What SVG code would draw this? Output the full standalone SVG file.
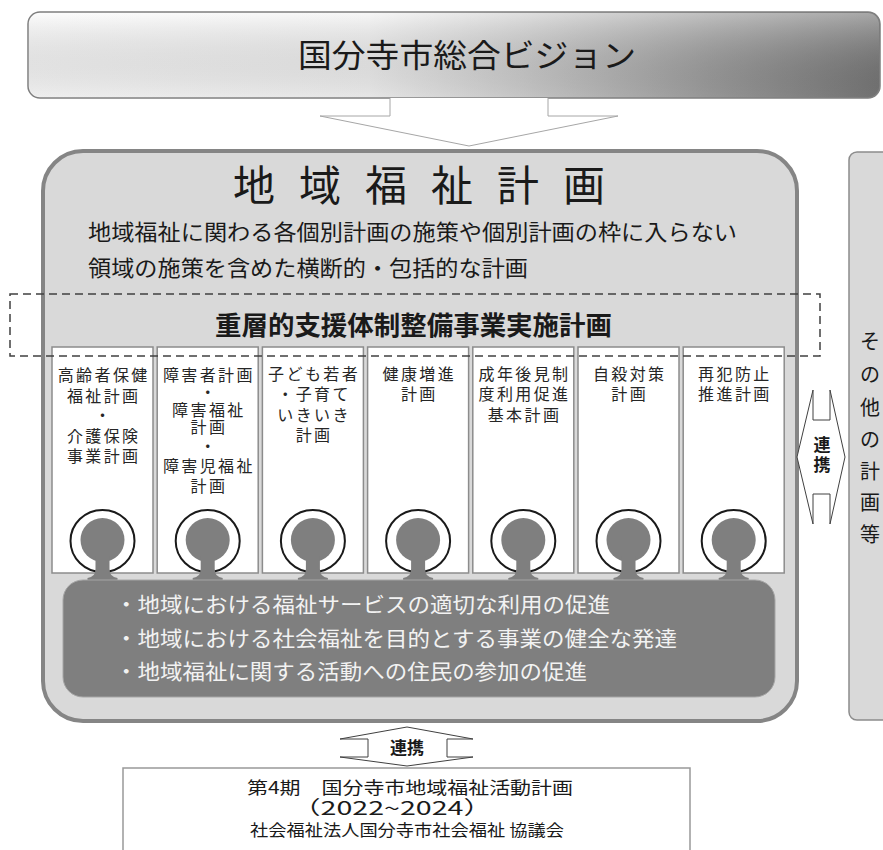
<svg xmlns="http://www.w3.org/2000/svg" width="883" height="850" viewBox="0 0 883 850">
<defs>
<linearGradient id="bannerGrad" x1="0" y1="0" x2="1" y2="0">
<stop offset="0" stop-color="#fbfbfb"/>
<stop offset="0.4" stop-color="#f2f2f2"/>
<stop offset="0.58" stop-color="#cfcfcf"/>
<stop offset="0.8" stop-color="#9e9e9e"/>
<stop offset="1" stop-color="#777777"/>
</linearGradient>
<linearGradient id="bannerV" x1="0" y1="0" x2="0" y2="1">
<stop offset="0" stop-color="#ffffff" stop-opacity="0.35"/>
<stop offset="1" stop-color="#000000" stop-opacity="0.05"/>
</linearGradient>
</defs>
<style>
text{font-family:"Noto Sans CJK JP","Noto Sans",sans-serif;fill:#1a1a1a}
.col{fill:#ffffff;stroke:#8c8c8c;stroke-width:1.5}
.ct{font-size:16px;text-anchor:middle;letter-spacing:2.4px;fill:#262626}
.ring{fill:#ffffff;stroke:#1a1a1a;stroke-width:2}
.disc{fill:#7f7f7f}
.bul{font-size:21px;fill:#f2f2f2}
.arr{fill:#ffffff;stroke:#404040;stroke-width:1}
.lk{font-size:17px;font-weight:bold;text-anchor:middle}
.side{font-size:20px;text-anchor:middle}
</style>
<rect width="883" height="850" fill="#ffffff"/>

<g id="vision">
<rect x="28" y="12" width="852" height="86" rx="12" fill="url(#bannerGrad)" stroke="#7f7f7f" stroke-width="1.5"/>
<rect x="29" y="13" width="850" height="84" rx="11" fill="url(#bannerV)"/>
<text x="298" y="67" font-size="32" textLength="338" lengthAdjust="spacingAndGlyphs">国分寺市総合ビジョン</text>
</g>

<g id="connectors">
<path d="M390,98 V116 H320 L469,146 L618,116 H548 V98" fill="#ffffff" stroke="#a6a6a6" stroke-width="1"/>
</g>

<g id="chiiki-fukushi-keikaku">
<rect x="43" y="151" width="754" height="570" rx="40" fill="#d9d9d9" stroke="#858585" stroke-width="4"/>
<text font-size="42" y="201"><tspan x="233">地</tspan><tspan x="299">域</tspan><tspan x="365">福</tspan><tspan x="431">祉</tspan><tspan x="497">計</tspan><tspan x="563">画</tspan></text>
<text x="88" y="240" font-size="22" textLength="649" lengthAdjust="spacingAndGlyphs">地域福祉に関わる各個別計画の施策や個別計画の枠に入らない</text>
<text x="88" y="276" font-size="22" textLength="440" lengthAdjust="spacingAndGlyphs">領域の施策を含めた横断的・包括的な計画</text>
<text x="215" y="335" font-size="26" font-weight="bold" textLength="397" lengthAdjust="spacingAndGlyphs">重層的支援体制整備事業実施計画</text>
</g>

<g id="plan-1">
<rect class="col" x="52" y="347" width="101" height="226"/>
<text class="ct"><tspan x="103.7" y="381">高齢者保健</tspan><tspan x="103.7" y="402">福祉計画</tspan><tspan x="103.7" y="421">・</tspan><tspan x="103.7" y="442">介護保険</tspan><tspan x="103.7" y="462">事業計画</tspan></text>
</g>
<g id="plan-2">
<rect class="col" x="157.2" y="347" width="101" height="226"/>
<text class="ct"><tspan x="208.9" y="381">障害者計画</tspan><tspan x="208.9" y="398">・</tspan><tspan x="208.9" y="416">障害福祉</tspan><tspan x="208.9" y="433">計画</tspan><tspan x="208.9" y="452">・</tspan><tspan x="208.9" y="472">障害児福祉</tspan><tspan x="208.9" y="492">計画</tspan></text>
</g>
<g id="plan-3">
<rect class="col" x="262.4" y="347" width="101" height="226"/>
<text class="ct"><tspan x="314.1" y="380">子ども若者</tspan><tspan x="314.1" y="400">・子育て</tspan><tspan x="314.1" y="421">いきいき</tspan><tspan x="314.1" y="441">計画</tspan></text>
</g>
<g id="plan-4">
<rect class="col" x="367.6" y="347" width="101" height="226"/>
<text class="ct"><tspan x="419.3" y="380">健康増進</tspan><tspan x="419.3" y="400">計画</tspan></text>
</g>
<g id="plan-5">
<rect class="col" x="472.8" y="347" width="101" height="226"/>
<text class="ct"><tspan x="524.5" y="380">成年後見制</tspan><tspan x="524.5" y="400">度利用促進</tspan><tspan x="524.5" y="421">基本計画</tspan></text>
</g>
<g id="plan-6">
<rect class="col" x="578" y="347" width="101" height="226"/>
<text class="ct"><tspan x="629.7" y="380">自殺対策</tspan><tspan x="629.7" y="400">計画</tspan></text>
</g>
<g id="plan-7">
<rect class="col" x="683.2" y="347" width="101" height="226"/>
<text class="ct"><tspan x="734.9" y="380">再犯防止</tspan><tspan x="734.9" y="400">推進計画</tspan></text>
</g>

<g id="jusou-frame">
<rect x="10" y="294" width="810" height="62" fill="none" stroke="#404040" stroke-width="1.5" stroke-dasharray="8 5"/>
</g>

<g id="hubs">
<ellipse class="ring" cx="102.5" cy="541" rx="32" ry="31"/>
<ellipse class="ring" cx="207.7" cy="541" rx="32" ry="31"/>
<ellipse class="ring" cx="312.9" cy="541" rx="32" ry="31"/>
<ellipse class="ring" cx="418.1" cy="541" rx="32" ry="31"/>
<ellipse class="ring" cx="523.3" cy="541" rx="32" ry="31"/>
<ellipse class="ring" cx="628.5" cy="541" rx="32" ry="31"/>
<ellipse class="ring" cx="733.7" cy="541" rx="32" ry="31"/>
<g class="disc">
<circle cx="102.5" cy="540" r="22"/>
<circle cx="207.7" cy="540" r="22"/>
<circle cx="312.9" cy="540" r="22"/>
<circle cx="418.1" cy="540" r="22"/>
<circle cx="523.3" cy="540" r="22"/>
<circle cx="628.5" cy="540" r="22"/>
<circle cx="733.7" cy="540" r="22"/>
<path d="M-7,556 V569 Q-7,577 -15,578 V585 H15 V578 Q7,577 7,569 V556 Z" transform="translate(102.5 0)"/>
<path d="M-7,556 V569 Q-7,577 -15,578 V585 H15 V578 Q7,577 7,569 V556 Z" transform="translate(207.7 0)"/>
<path d="M-7,556 V569 Q-7,577 -15,578 V585 H15 V578 Q7,577 7,569 V556 Z" transform="translate(312.9 0)"/>
<path d="M-7,556 V569 Q-7,577 -15,578 V585 H15 V578 Q7,577 7,569 V556 Z" transform="translate(418.1 0)"/>
<path d="M-7,556 V569 Q-7,577 -15,578 V585 H15 V578 Q7,577 7,569 V556 Z" transform="translate(523.3 0)"/>
<path d="M-7,556 V569 Q-7,577 -15,578 V585 H15 V578 Q7,577 7,569 V556 Z" transform="translate(628.5 0)"/>
<path d="M-7,556 V569 Q-7,577 -15,578 V585 H15 V578 Q7,577 7,569 V556 Z" transform="translate(733.7 0)"/>
</g>
</g>

<g id="purposes">
<rect x="63" y="580" width="712" height="117" rx="20" fill="#7f7f7f" stroke="#a6a6a6" stroke-width="1"/>
<text class="bul" x="115" y="612" textLength="495" lengthAdjust="spacingAndGlyphs">・地域における福祉サービスの適切な利用の促進</text>
<text class="bul" x="115" y="646" textLength="562" lengthAdjust="spacingAndGlyphs">・地域における社会福祉を目的とする事業の健全な発達</text>
<text class="bul" x="115" y="679" textLength="472" lengthAdjust="spacingAndGlyphs">・地域福祉に関する活動への住民の参加の促進</text>
</g>

<g id="other-plans">
<rect x="849" y="152" width="60" height="568" rx="8" fill="#d9d9d9" stroke="#8c8c8c" stroke-width="1.5"/>
<text class="side"><tspan x="870" y="349">そ</tspan><tspan x="870" y="382">の</tspan><tspan x="870" y="415">他</tspan><tspan x="870" y="447">の</tspan><tspan x="870" y="479">計</tspan><tspan x="870" y="510">画</tspan><tspan x="870" y="542">等</tspan></text>
</g>

<g id="link-arrows">
<path class="arr" d="M797,457 L813,390 V420 H830 V390 L845,457 L830,524 V494 H813 V524 Z"/>
<text class="lk"><tspan x="822" y="451">連</tspan><tspan x="822" y="471">携</tspan></text>
<path class="arr" d="M407,727 L473,739 H447 V757 H473 L407,766 L340,757 H368 V739 H340 Z"/>
<text class="lk" x="407" y="754">連携</text>
</g>

<g id="shakyo-plan">
<rect x="123" y="768" width="567" height="100" fill="#ffffff" stroke="#999999" stroke-width="1.5"/>
<text x="247" y="794" font-size="17" textLength="326" lengthAdjust="spacingAndGlyphs">第4期　国分寺市地域福祉活動計画</text>
<text x="292" y="815" font-size="19" textLength="200" lengthAdjust="spacingAndGlyphs">（2022~2024）</text>
<text x="250" y="836" font-size="16" textLength="314" lengthAdjust="spacingAndGlyphs">社会福祉法人国分寺市社会福祉 協議会</text>
</g>
</svg>
